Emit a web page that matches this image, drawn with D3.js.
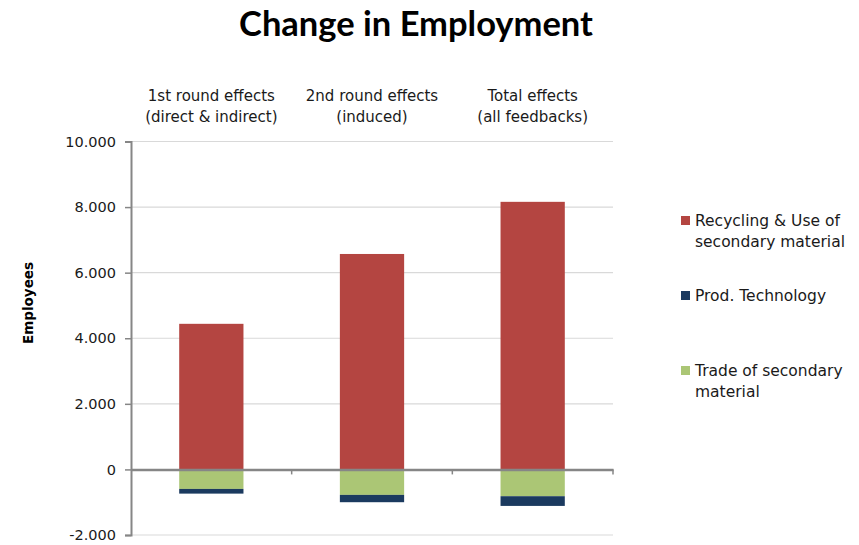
<!DOCTYPE html>
<html>
<head>
<meta charset="utf-8">
<script src="https://cdn.jsdelivr.net/npm/d3@7"></script>
<style>
  body { margin: 0; background: #fff; }
  svg { display: block; }
  .lbl { font-family: "DejaVu Sans", sans-serif; fill: #1a1a1a; }
</style>
</head>
<body>
<svg id="chart" width="859" height="545"></svg>
<script>
// Change in employment by effect round (employees)
const categories = ["1st round", "2nd round", "Total"];
const categoryLines = [
  ["1st round effects", "(direct & indirect)"],
  ["2nd round effects", "(induced)"],
  ["Total effects", "(all feedbacks)"]
];
const recycling = [4440, 6570, 8160];   // Recycling & Use of secondary material
const prodTech = [-143, -223, -296];    // Prod. Technology
const trade = [-595, -777, -817];       // Trade of secondary material
const yTicks = [-2000, 0, 2000, 4000, 6000, 8000, 10000];

const seriesInfo = [
  { key: "trade", name: ["Trade of secondary", "material"], color: "#abc675", values: trade },
  { key: "prod", name: ["Prod. Technology"], color: "#1b3a5f", values: prodTech },
  { key: "recycling", name: ["Recycling & Use of", "secondary material"], color: "#b44541", values: recycling }
];

const rows = categories.map((c, i) => {
  const r = { category: c };
  seriesInfo.forEach(s => r[s.key] = s.values[i]);
  return r;
});

const svg = d3.select("#chart");
const plotLeft = 131, plotRight = 613, plotTop = 141.5, plotBottom = 535;

const x = d3.scaleBand().domain(categories).range([plotLeft, plotRight]).padding(0);
const y = d3.scaleLinear().domain([-2000, 10000]).range([plotBottom, plotTop]);
const barW = x.bandwidth() * 0.4;

const loc = d3.formatLocale({ decimal: ",", thousands: ".", grouping: [3], currency: ["", ""], minus: "-" });
const fmt = loc.format(",d");

// Title
svg.append("text")
  .attr("x", 416).attr("y", 36)
  .attr("text-anchor", "middle")
  .style("font-family", "Lato, sans-serif")
  .style("font-weight", "bold")
  .style("font-size", "34.5px")
  .style("fill", "#000")
  .text("Change in Employment");

// Gridlines
svg.append("g").selectAll("line")
  .data(yTicks.filter(t => t !== 0))
  .join("line")
  .attr("x1", plotLeft).attr("x2", plotRight)
  .attr("y1", d => y(d)).attr("y2", d => y(d))
  .attr("stroke", "#d9d9d9").attr("stroke-width", 1.2);

// Stacked bars
const stack = d3.stack().keys(seriesInfo.map(s => s.key)).offset(d3.stackOffsetDiverging);
const stacked = stack(rows);
const colorOf = Object.fromEntries(seriesInfo.map(s => [s.key, s.color]));

svg.append("g").selectAll("g")
  .data(stacked)
  .join("g")
  .attr("fill", d => colorOf[d.key])
  .selectAll("rect")
  .data(d => d)
  .join("rect")
  .attr("x", d => x(d.data.category) + (x.bandwidth() - barW) / 2)
  .attr("width", barW)
  .attr("y", d => y(Math.max(d[0], d[1])))
  .attr("height", d => Math.abs(y(d[0]) - y(d[1])));

// Y axis
const yAxis = svg.append("g")
  .attr("transform", `translate(${plotLeft},0)`)
  .call(d3.axisLeft(y).tickValues(yTicks).tickFormat(fmt).tickSize(6).tickPadding(9));
yAxis.select(".domain").attr("stroke", "#868686").attr("stroke-width", 2);
yAxis.selectAll(".tick line").attr("stroke", "#868686").attr("stroke-width", 1.5);
yAxis.selectAll(".tick text")
  .attr("class", "lbl")
  .style("font-size", "14.5px")
  .style("fill", "#1a1a1a");

// Zero baseline with category separators
const xAxis = svg.append("g")
  .attr("transform", `translate(0,${y(0)})`)
  .call(d3.axisBottom(x).tickSize(0).tickFormat(""));
xAxis.select(".domain").attr("stroke", "#868686").attr("stroke-width", 2.5);
xAxis.selectAll(".tick").remove();
xAxis.selectAll("line.sep")
  .data(categories)
  .join("line")
  .attr("class", "sep")
  .attr("x1", d => x(d) + x.bandwidth()).attr("x2", d => x(d) + x.bandwidth())
  .attr("y1", 0).attr("y2", 5)
  .attr("stroke", "#868686").attr("stroke-width", 1.5);

// Category labels above the plot
const catG = svg.append("g");
categories.forEach((c, i) => {
  const t = catG.append("text")
    .attr("class", "lbl")
    .attr("text-anchor", "middle")
    .attr("x", x(c) + x.bandwidth() / 2)
    .attr("y", 101)
    .style("font-size", "15px");
  categoryLines[i].forEach((line, j) => {
    t.append("tspan").attr("x", x(c) + x.bandwidth() / 2).attr("dy", j ? 21 : 0).text(line);
  });
});

// Y axis title
svg.append("text")
  .attr("transform", "translate(33,303) rotate(-90)")
  .attr("text-anchor", "middle")
  .style("font-family", "'DejaVu Sans', sans-serif")
  .style("font-weight", "bold")
  .style("font-size", "13.5px")
  .style("fill", "#000")
  .text("Employees");

// Legend
const legendItems = [seriesInfo[2], seriesInfo[1], seriesInfo[0]];
const legendY = [226, 301, 376];
const lg = svg.append("g");
legendItems.forEach((s, i) => {
  lg.append("rect")
    .attr("x", 681).attr("y", legendY[i] - 10)
    .attr("width", 9).attr("height", 9)
    .attr("fill", s.color);
  const t = lg.append("text")
    .attr("class", "lbl")
    .attr("x", 695).attr("y", legendY[i])
    .style("font-size", "15.5px");
  s.name.forEach((line, j) => {
    t.append("tspan").attr("x", 695).attr("dy", j ? 21 : 0).text(line);
  });
});
</script>
</body>
</html>
